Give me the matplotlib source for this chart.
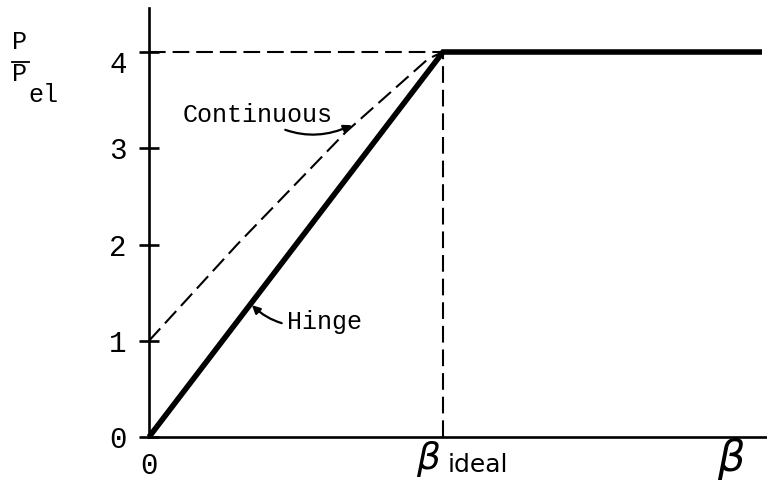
import matplotlib
matplotlib.use("Agg")
import matplotlib.pyplot as plt
import matplotlib.transforms as mtransforms

plt.rcParams["lines.scale_dashes"] = False
MONO = "Liberation Mono"

# Load ratio P/Pel versus beta (beta normalised by beta_ideal)
beta_hinge = [0.0, 1.0, 2.085]
load_hinge = [0.0, 4.0, 4.0]

beta_cont = [0.0, 0.30, 0.67, 0.95, 1.0]
load_cont = [1.0, 2.0, 3.17, 3.93, 4.0]

beta_ideal = 1.0
load_max = 4.0

yticks = [0, 1, 2, 3, 4]
ytick_labels = ["0", "1", "2", "3", "4"]
xticks = [0]
xtick_labels = ["0"]

fig = plt.figure(figsize=(7.67, 4.96), dpi=100)
ax = fig.add_axes([149 / 767, (496 - 437) / 496, (767 - 149) / 767, (437 - 8) / 496])
ax.set_xlim(0, 618 / 294)
ax.set_ylim(0, 429 / 96.25)

for s in ("top", "right"):
    ax.spines[s].set_visible(False)
for s in ("left", "bottom"):
    ax.spines[s].set_linewidth(1.9)
    ax.spines[s].set_color("black")

dash = (0, (12, 5))

# guide lines at beta_ideal and at the plateau
ax.plot([0, beta_ideal], [load_max, load_max], color="black", lw=1.5, ls=dash, clip_on=False)
ax.plot([beta_ideal, beta_ideal], [0, load_max], color="black", lw=1.5, ls=dash, clip_on=False)

# continuous and hinge curves
ax.plot(beta_cont, load_cont, color="black", lw=1.5, ls=dash, clip_on=False)
ax.plot(beta_hinge, load_hinge, color="black", lw=4.0, solid_capstyle="butt",
        solid_joinstyle="miter", clip_on=False)

ax.set_yticks(yticks)
ax.set_yticklabels(ytick_labels, family=MONO, fontsize=21)
ax.set_xticks(xticks)
ax.set_xticklabels(xtick_labels, family=MONO, fontsize=21)
ax.tick_params(axis="y", direction="inout", length=14, width=1.9, pad=9)
ax.tick_params(axis="x", length=0, pad=11)

# the "4" label sits a little below its tick
for lab in ax.get_yticklabels():
    if lab.get_text() == "4":
        lab.set_transform(lab.get_transform() + mtransforms.ScaledTranslation(0, -10 / 100, fig.dpi_scale_trans))

# curve labels with leader arrows
ax.annotate("Continuous", xy=(0.69, 3.24), xytext=(0.625, 3.35),
            ha="right", va="center", family=MONO, fontsize=18,
            arrowprops=dict(arrowstyle="-|>", color="black", lw=1.6,
                            mutation_scale=12, shrinkA=1, shrinkB=0,
                            connectionstyle="arc3,rad=0.3"))
ax.annotate("Hinge", xy=(0.35, 1.37), xytext=(0.47, 1.20),
            ha="left", va="center", family=MONO, fontsize=18,
            arrowprops=dict(arrowstyle="-|>", color="black", lw=1.6,
                            mutation_scale=12, shrinkA=2, shrinkB=0,
                            connectionstyle="arc3,rad=-0.3"))

# beta axis labels
blend = mtransforms.blended_transform_factory(ax.transData, fig.transFigure)
ax.text(beta_ideal - 0.05, 1 - 459 / 496, r"$\beta$", transform=blend,
        ha="center", va="center", fontsize=27)
ax.text(beta_ideal + 0.015, 1 - 465 / 496, "ideal", transform=blend,
        ha="left", va="center", family="DejaVu Sans", fontsize=18)
ax.text((731 - 149) / 294, 1 - 459 / 496, r"$\beta$", transform=blend,
        ha="center", va="center", fontsize=31)

# y label as a stacked fraction P / P_el
fig.text(20 / 767, 1 - 42 / 496, "P", family=MONO, fontsize=18, ha="center", va="center")
fig.add_artist(plt.Line2D([12 / 767, 29 / 767], [1 - 62 / 496, 1 - 62 / 496], color="black", lw=1.3))
fig.text(20 / 767, 1 - 74 / 496, "P", family=MONO, fontsize=18, ha="center", va="center")
fig.text(43 / 767, 1 - 95 / 496, "el", family=MONO, fontsize=18, ha="center", va="center")

fig.savefig("out.png", dpi=100)
